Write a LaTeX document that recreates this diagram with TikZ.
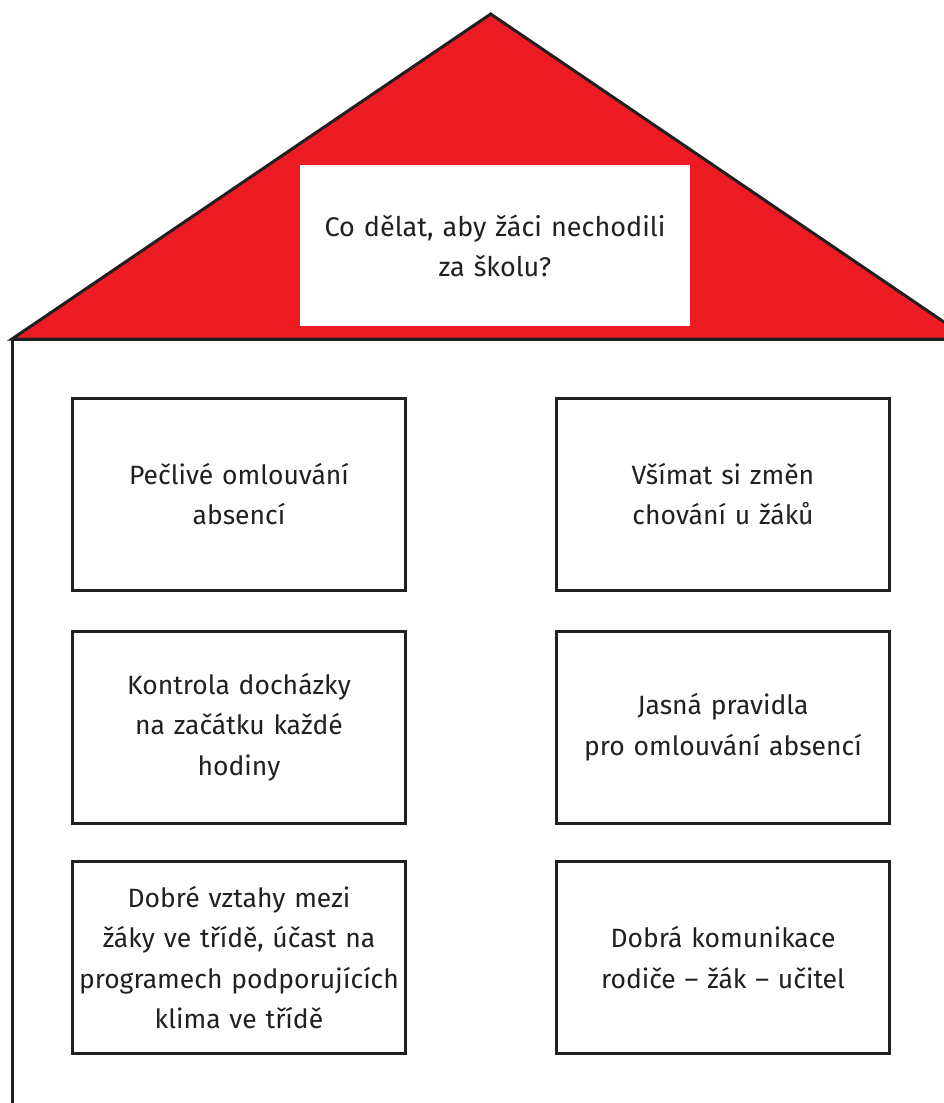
\documentclass[tikz,border=0pt]{standalone}
\usepackage{fontspec}
\setmainfont{Fira Sans}
\definecolor{roofred}{HTML}{ED1C24}
\definecolor{ink}{HTML}{231F20}
\begin{document}
\begin{tikzpicture}[x=1pt,y=-1pt,
  card/.style={draw=ink, line width=3pt, fill=white, minimum width=332pt, minimum height=192pt,
    text width=326pt, align=center, font=\fontsize{26.5}{40.5}\selectfont, text=ink},
  titlebox/.style={fill=white, minimum width=390pt, minimum height=161pt,
    text width=384pt, align=center, font=\fontsize{27}{40}\selectfont, text=ink}]
\useasboundingbox (0,0) rectangle (944,1103);
\begin{scope}
\clip (0,0) rectangle (944,1103);
% roof
\draw[fill=roofred, draw=ink, line width=3pt, line join=miter]
  (12,339) -- (490.7,14) -- (969,339) -- cycle;
% walls
\draw[draw=ink, line width=3pt] (12,339) -- (12,1110);
\draw[draw=ink, line width=3pt] (12,339) -- (970,339);
\end{scope}
\node[titlebox] (title) at (495,245.5) {\raisebox{-4pt}{\parbox{384pt}{\centering Co dělat, aby žáci nechodili\\za školu?}}};
\node[card] (l1) at (239,494) {Pečlivé omlouvání\\absencí};
\node[card] (r1) at (723,494) {Všímat si změn\\chování u žáků};
\node[card] (l2) at (239,727) {Kontrola docházky\\na začátku každé\\hodiny};
\node[card] (r2) at (723,727) {Jasná pravidla\\pro omlouvání absencí};
\node[card] (l3) at (239,957.5) {Dobré vztahy mezi\\žáky ve třídě, účast na\\programech podporujících\\klima ve třídě};
\node[card] (r3) at (723,957.5) {Dobrá komunikace\\rodiče – žák – učitel};
\end{tikzpicture}
\end{document}
